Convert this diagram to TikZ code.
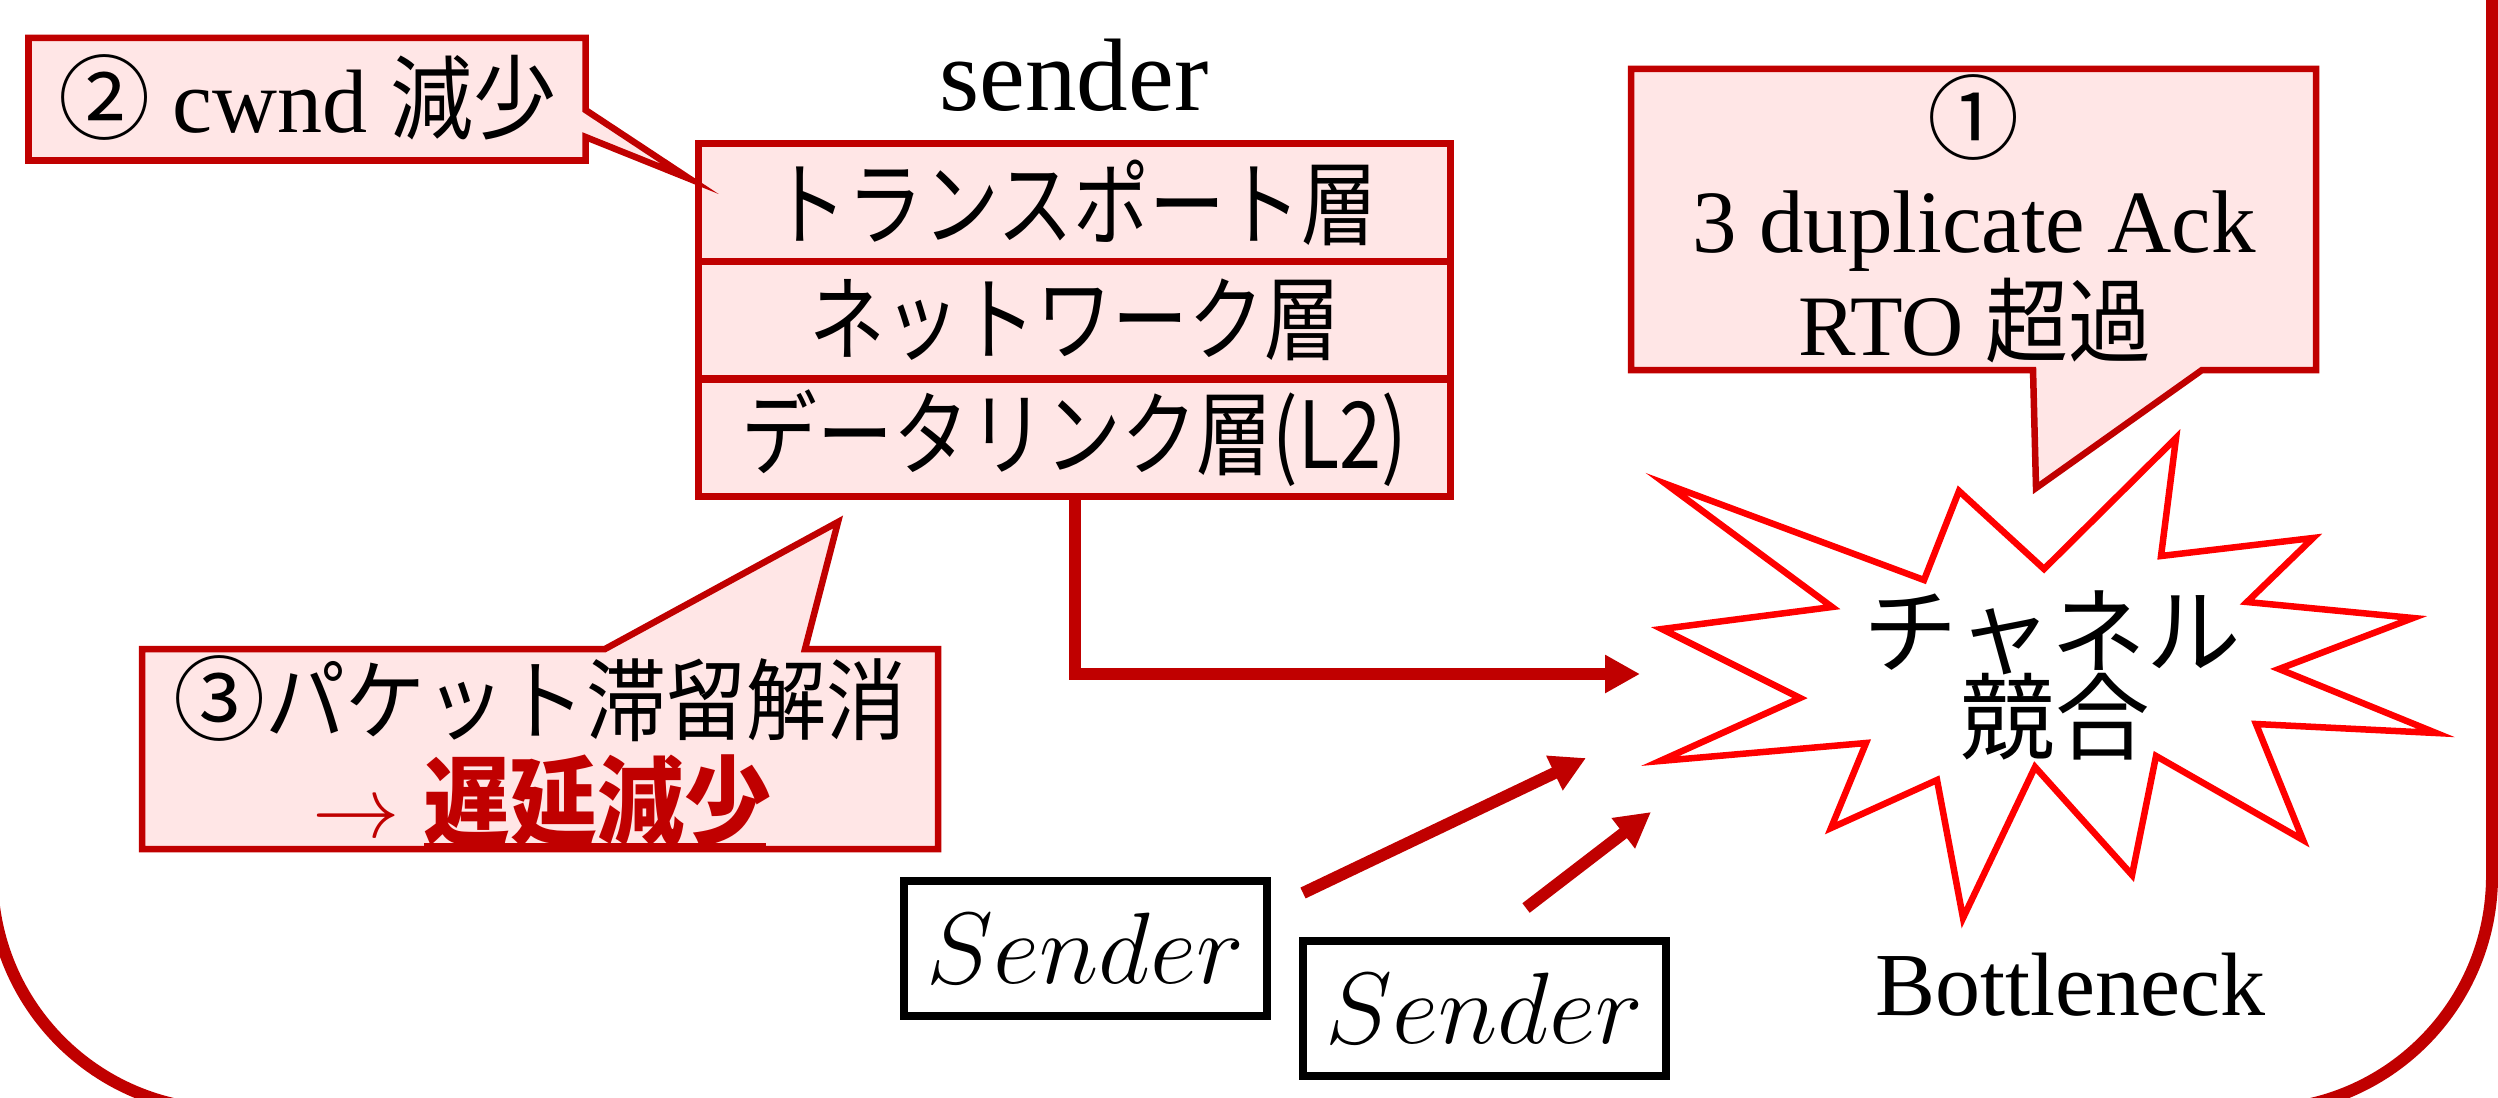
\documentclass[tikz,border=0pt]{standalone}
\usepackage{fontspec}
\setmainfont{Liberation Serif}
\newfontfamily\jp{Noto Sans CJK JP}[FakeStretch=0.9]
\newfontfamily\jpc{Noto Sans CJK JP}[FakeStretch=0.82]
\newfontfamily\jpn{Noto Sans CJK JP}
\usetikzlibrary{arrows.meta}
\definecolor{dkred}{HTML}{C00000}
\definecolor{pinkfill}{HTML}{FFE6E6}
\definecolor{burstred}{HTML}{FF0000}
\newcommand{\fs}[1]{\fontsize{#1pt}{#1pt}\selectfont}
\newcommand{\sndr}{\scalebox{1.16}{$Sender$}}
\tikzset{
  callout/.style={draw=dkred, fill=pinkfill, line width=0.065cm, line join=miter},
  layer/.style={draw=dkred, fill=pinkfill, line width=0.07cm, minimum width=7.51cm,
    minimum height=1.175cm, inner sep=0pt, font=\jpc\fs{26.3}},
  sendbox/.style={draw=black, line width=0.08cm, minimum width=3.63cm,
    minimum height=1.35cm, inner sep=0pt, font=\fs{24.88}},
  flow/.style={draw=dkred, line width=0.12cm, line join=miter,
    -{Triangle[length=0.35cm,width=0.36cm]}},
  burst/.style={draw=burstred, fill=white, line width=0.065cm, line join=miter},
  frame/.style={draw=dkred, line width=0.12cm, rounded corners=2.34cm},
  txt/.style={inner sep=0pt, outer sep=0pt},
}
\begin{document}
\begin{tikzpicture}[x=0.01cm, y=-0.01cm]
\useasboundingbox (0,0) rectangle (2498,1097);
\begin{scope}
  \clip (0,0) rectangle (2498,1097);
  \draw[frame] (-8,-400) rectangle (2492,1110);
\end{scope}

% sender stack
\node[txt, anchor=base, font=\fs{29.3}] (snd) at (1074,111) {sender};
\node[layer] (L4) at (1074.5,202.5) {トランスポート層};
\node[layer] (L3) at (1074.5,320) {ネットワーク層};
\node[layer] (L2) at (1074.5,438) {データリンク層(L2)};

% callout 2
\draw[callout] (28.5,38) -- (585.5,38) -- (585.5,110) -- (690,179) -- (585.5,137)
  -- (585.5,160.5) -- (28.5,160.5) -- cycle;
\node[txt, anchor=base, font=\fs{25.6}] (c2t) at (307,133)
  {{\jpn\fs{26.2}②} cwnd {\jp\fs{26.2}減少}};

% starburst
\draw[burst] (1666,484) -- (1924,580) -- (1959,491) -- (2044,569) -- (2176,438)
  -- (2161,556) -- (2313,538) -- (2247,602) -- (2413,618) -- (2279,669)
  -- (2436,733) -- (2256,724) -- (2303,840) -- (2156,756) -- (2132,875)
  -- (2035,767) -- (1963,918) -- (1937,780) -- (1831,828) -- (1866,743)
  -- (1660,761) -- (1800,698) -- (1662,629) -- (1832,607) -- cycle;
\node[txt, font=\jpn\fs{26.9}] (b1) at (2052,633) {チャネル};
\node[txt, font=\jpn\fs{26.9}] (b2) at (2055,717) {競合};
\node[txt, anchor=base, font=\fs{25.6}] (bn) at (2070,1015) {Bottleneck};

% callout 1
\draw[callout] (1631,69) -- (2316,69) -- (2316,370) -- (2202,370) -- (2036,488)
  -- (2033,370) -- (1631,370) -- cycle;
\node[txt, font=\jpn\fs{26.2}] (c1a) at (1974,117) {①};
\node[txt, anchor=base, font=\fs{25.3}] (c1b) at (1974,252) {3 duplicate Ack};
\node[txt, anchor=base, font=\fs{24.5}] (c1c) at (1975,355) {RTO {\jp\fs{26.2}超過}};

% callout 3
\draw[callout] (142,649) -- (605,649) -- (838,522) -- (805,649) -- (938,649)
  -- (938,849) -- (142,849) -- cycle;
\node[txt] (c3a) at (540,699) {{\jpn\fs{26.2}③}{\jp\fs{25.3}パケット滞留解消}};
\node[txt, font=\fs{26}] (c3b) at (542,801)
  {{\color{dkred}\fs{24}$\rightarrow$} {\jp\bfseries\color{dkred}\fs{27.5}遅延減少}};
\draw[dkred, line width=0.045cm] (424,845) -- (766,845);

% senders
\node[sendbox] (S1) at (1085.5,948.5) {\sndr};
\node[sendbox] (S2) at (1484.5,1008.5) {\sndr};

% arrows
\coordinate (a1) at (1640,674);
\draw[flow] (L2.south) |- (a1);
\coordinate (a2s) at (1303,893);
\coordinate (a2e) at (1586,758);
\draw[flow] (a2s) -- (a2e);
\coordinate (a3s) at (1526,908);
\coordinate (a3e) at (1651,812);
\draw[flow] (a3s) -- (a3e);
\end{tikzpicture}
\end{document}
